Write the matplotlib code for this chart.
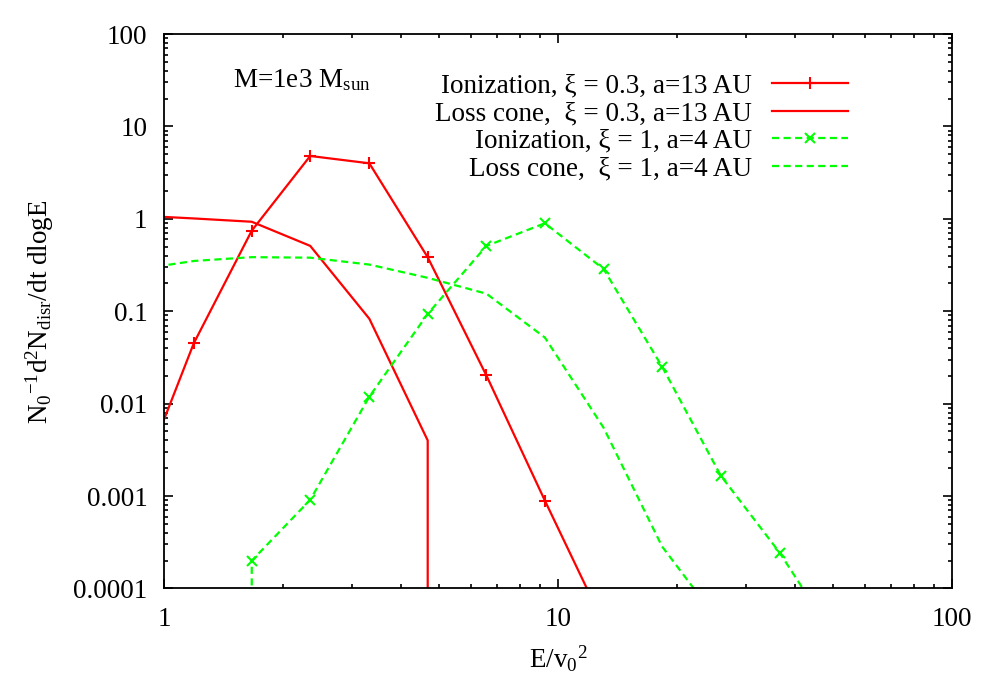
import numpy as np
import matplotlib
matplotlib.use("Agg")
import matplotlib.pyplot as plt
from matplotlib.ticker import FixedLocator, FixedFormatter, NullFormatter, LogLocator

plt.rcParams['font.family'] = ['Liberation Serif', 'DejaVu Serif']
plt.rcParams['mathtext.fontset'] = 'custom'
plt.rcParams['mathtext.rm'] = 'Liberation Serif'
plt.rcParams['mathtext.it'] = 'Liberation Serif:italic'
plt.rcParams['font.size'] = 19.5

# ---------------------------------
# data
# energy bins (E/v0^2)
e_ion_red = [0.84, 1.19, 1.67, 2.35, 3.32, 4.67, 6.58, 9.26, 13.05]
rate_ion_red = [0.001, 0.045, 0.745, 4.79, 3.99, 0.384, 0.0202, 0.000895, 4.2e-5]

# loss cone drops to zero after 4.67 -> vertical drop
e_lc_red = [0.84, 1.19, 1.67, 2.35, 3.32, 4.67, 4.67]
rate_lc_red = [1.09, 1.01, 0.93, 0.51, 0.083, 0.004, 1e-9]

# ionization xi=1 starts from zero at 1.67 -> vertical rise
e_ion_green = [1.67, 1.67, 2.35, 3.32, 4.67, 6.58, 9.26, 13.05, 18.37, 25.9, 36.5, 51.3]
rate_ion_green = [1e-9, 0.0002, 0.00091, 0.0119, 0.0936, 0.509, 0.896, 0.287, 0.0252,
                  0.00166, 0.000245, 2.6e-5]

e_lc_green = [0.84, 1.19, 1.67, 2.35, 3.32, 4.67, 6.58, 9.26, 13.05, 18.37, 25.9]
rate_lc_green = [0.28, 0.35, 0.385, 0.38, 0.32, 0.23, 0.155, 0.052, 0.0055, 0.000285, 4.1e-5]

labels = ['Ionization, ξ = 0.3, a=13 AU',
          'Loss cone,  ξ = 0.3, a=13 AU',
          'Ionization, ξ = 1, a=4 AU',
          'Loss cone,  ξ = 1, a=4 AU']

yticks = [1e-4, 1e-3, 1e-2, 1e-1, 1, 10, 100]
ytick_labels = ['0.0001', '0.001', '0.01', '0.1', '1', '10', '100']
xticks = [1, 10, 100]
xtick_labels = ['1', '10', '100']

red = '#ff0000'
green = '#00ff00'
dash = (0, (3.2, 2))

fig = plt.figure(figsize=(10, 7), dpi=100)
ax = fig.add_axes([0.164, 0.1593, 0.788, 0.7921])

ax.plot(e_ion_red, rate_ion_red, color=red, lw=1.6, marker='+', ms=8, mew=1.5,
        label=labels[0])
ax.plot(e_lc_red, rate_lc_red, color=red, lw=1.6, label=labels[1])
ax.plot(e_ion_green, rate_ion_green, color=green, lw=1.6, ls=dash, marker='x', ms=7,
        mew=1.5, label=labels[2])
ax.plot(e_lc_green, rate_lc_green, color=green, lw=1.6, ls=dash, label=labels[3])

ax.set_xscale('log')
ax.set_yscale('log')
ax.set_xlim(1, 100)
ax.set_ylim(1e-4, 100)

ax.xaxis.set_major_locator(FixedLocator(xticks))
ax.xaxis.set_major_formatter(FixedFormatter(xtick_labels))
ax.yaxis.set_major_locator(FixedLocator(yticks))
ax.yaxis.set_major_formatter(FixedFormatter(ytick_labels))
ax.xaxis.set_minor_locator(LogLocator(base=10, subs=np.arange(2, 10)))
ax.yaxis.set_minor_locator(LogLocator(base=10, subs=np.arange(2, 10), numticks=20))
ax.xaxis.set_minor_formatter(NullFormatter())
ax.yaxis.set_minor_formatter(NullFormatter())

ax.tick_params(which='both', direction='in', top=True, right=True, width=1.2)
ax.tick_params(which='major', length=6.5)
ax.tick_params(which='minor', length=3.2)
ax.tick_params(axis='x', pad=13)
ax.tick_params(axis='y', pad=12)
for s in ax.spines.values():
    s.set_linewidth(1.3)

ax.set_xlabel(r'E/v$_0$$^2$', labelpad=9)
ax.set_ylabel(r'N$_0$$^{-1}$d$^2$N$_{\mathrm{disr}}$/dt dlogE', labelpad=12)

ax.text(0.0876, 0.917, r'M=1e3 M$_{\mathrm{sun}}$', transform=ax.transAxes,
        ha='left', va='center')

# text on the left, sample on the right, rows right-aligned (gnuplot style)
leg = ax.legend(loc='upper right', bbox_to_anchor=(0.868, 0.928), frameon=False,
                markerfirst=False, handlelength=2.8, handletextpad=0.75,
                labelspacing=0.09, borderpad=0, borderaxespad=0, numpoints=1)

fig.savefig('out.png', dpi=100)
plt.close()
